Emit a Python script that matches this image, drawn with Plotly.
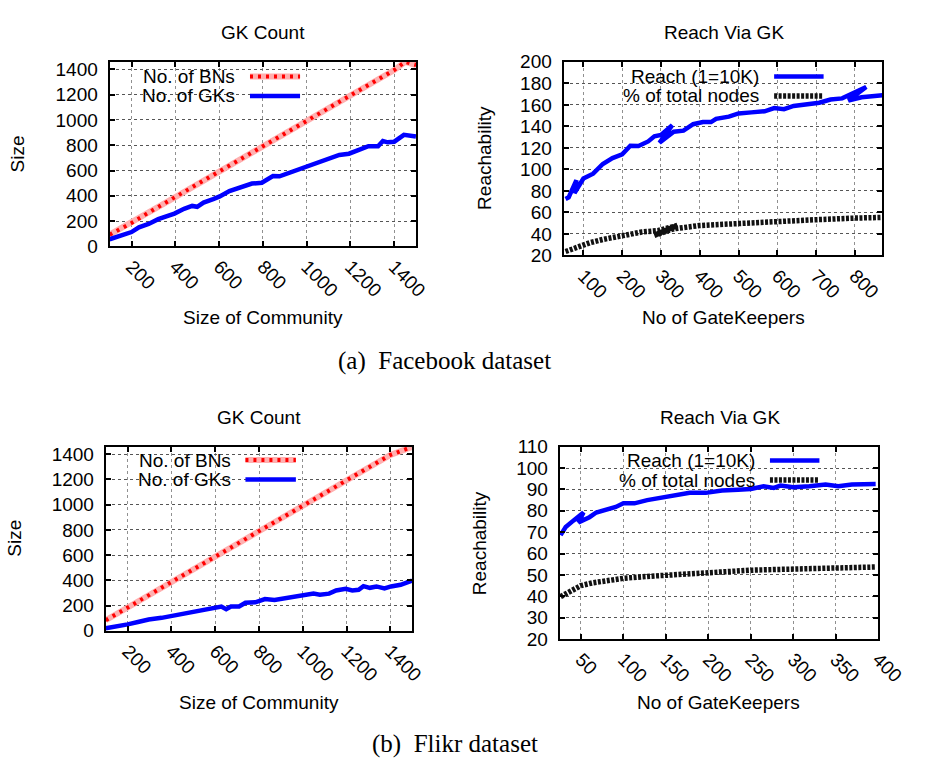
import plotly.graph_objects as go

W, H = 936, 767

# ---------------- data ----------------
# (a) Facebook – GK Count
fb_bn_x = [100, 200, 300, 400, 500, 600, 700, 800, 900, 1000, 1100, 1200, 1300, 1400, 1450, 1500]
fb_bn_y = [92, 185, 290, 390, 490, 590, 690, 790, 890, 995, 1095, 1195, 1295, 1395, 1460, 1435]
fb_gk_x = [100, 153, 200, 234, 278, 322, 396, 440, 477, 500, 529, 573, 603, 647, 699, 750, 795,
           846, 876, 928, 994, 1031, 1075, 1149, 1193, 1238, 1282, 1326, 1348, 1370, 1400, 1444, 1499]
fb_gk_y = [56, 82, 113, 151, 177, 215, 259, 297, 320, 313, 346, 374, 395, 438, 464, 497, 503,
           556, 554, 587, 626, 646, 672, 723, 733, 767, 792, 792, 833, 823, 828, 882, 869]

# (a) Facebook – Reach Via GK
fb_reach_x = [54, 62, 82, 77, 100, 125, 150, 175, 200, 221, 242, 267, 283, 300, 329, 296, 333,
              358, 383, 408, 429, 442, 475, 500, 533, 567, 592, 617, 642, 683, 708, 737, 767,
              829, 783, 817, 871]
fb_reach_y = [72.5, 74, 90, 78, 91.5, 96, 105, 110.5, 114, 122, 121.7, 126, 130.7, 132, 141, 124.7, 135,
              136, 142, 144, 144, 147, 149, 152, 153, 154, 157, 156, 159, 161, 162, 165, 166,
              176.6, 164, 167, 169]
fb_pct_x = [54, 83, 117, 150, 200, 250, 292, 342, 283, 333, 400, 500, 600, 700, 800, 867]
fb_pct_y = [23.6, 28, 31.8, 34.8, 38.7, 41.7, 43, 47.8, 38.7, 44.7, 47.8, 49.9, 51.7, 53.2, 54.7, 55.3]

# (b) Flikr – GK Count
fl_bn_x = [100, 200, 300, 400, 500, 600, 700, 800, 900, 1000, 1100, 1200, 1300, 1400, 1500]
fl_bn_y = [84, 185, 285, 385, 485, 590, 690, 790, 890, 995, 1095, 1195, 1295, 1395, 1459]
fl_gk_x = [100, 148, 200, 252, 296, 355, 414, 473, 532, 591, 628, 650, 672, 709, 738, 783, 827,
           871, 930, 975, 1019, 1049, 1078, 1120, 1152, 1196, 1226, 1255, 1277, 1306, 1336, 1373,
           1403, 1447, 1499]
fl_gk_y = [20, 33, 51, 72, 90, 103, 123, 146, 167, 185, 193, 172, 193, 193, 223, 226, 252,
           244, 262, 277, 282, 295, 287, 295, 320, 333, 320, 326, 354, 341, 352, 336,
           352, 365, 398]

# (b) Flikr – Reach Via GK
fl_reach_x = [26, 32, 41, 53, 47, 60, 68, 79, 91, 100, 113, 128, 148, 167, 178, 197, 216, 235,
              250, 265, 277, 285, 300, 319, 338, 353, 369, 397]
fl_reach_y = [68.6, 72.4, 75.4, 79.2, 74.6, 77, 79.2, 80.4, 81.8, 83.5, 83.5, 85, 86.5, 87.6, 88.4,
              88.4, 89.5, 89.9, 90.2, 91.5, 90.7, 91.8, 91, 91.5, 92.3, 91.5, 92.3, 92.6]
fl_pct_x = [26, 37, 50, 64, 83, 100, 128, 151, 178, 200, 223, 250, 277, 300, 327, 350, 397]
fl_pct_y = [39.8, 42.5, 45, 46.3, 47.4, 48.4, 49.3, 49.9, 50.8, 51.1, 51.6, 52.2, 52.5, 52.8, 53.1,
            53.4, 53.7]

titles = ["GK Count", "Reach Via GK", "GK Count", "Reach Via GK"]
xtitles = ["Size of Community", "No of GateKeepers", "Size of Community", "No of GateKeepers"]
ytitles = ["Size", "Reachability", "Size", "Reachability"]
legend_gk = ["No. of BNs", "No. of GKs"]
legend_reach = ["Reach (1=10K)", "% of total nodes"]
captions = ["(a)  Facebook dataset", "(b)  Flikr dataset"]

# ---------------- layout helpers ----------------
def px(x):
    return x / W


def py(y):
    return 1 - y / H


FONT = "Liberation Sans, Arial, sans-serif"
SERIF = "Liberation Serif, Times New Roman, serif"
FS = 19

# panel boxes in pixels: (left, right, top, bottom)
boxes = [(113, 429, 53.3, 243), (581, 909.7, 53.3, 252.3),
         (109, 425, 449, 638.3), (577, 905.3, 449, 646.7)]
xranges = [[100, 1500], [49, 871], [100, 1500], [25, 400]]
yranges = [[0, 1460], [20, 200], [0, 1460], [20, 110]]
xticks = [list(range(200, 1401, 200)), list(range(100, 801, 100)),
          list(range(200, 1401, 200)), list(range(50, 401, 50))]
yticks = [list(range(0, 1401, 200)), list(range(20, 201, 20)),
          list(range(0, 1401, 200)), list(range(20, 111, 10))]

fig = go.Figure()

RED_LIGHT = "#ffb0b0"
RED = "#ff0000"
BLUE = "#0000ff"
BLACK = "#111111"
BN_DASH = "3px,5px"
PCT_DASH = "3px,1.5px"


def axes(i):
    return ("x", "y") if i == 0 else ("x" + str(i + 1), "y" + str(i + 1))


def add_bn(x, y, i):
    xa, ya = axes(i)
    fig.add_trace(go.Scatter(x=x, y=y, mode="lines", xaxis=xa, yaxis=ya,
                             line=dict(color=RED_LIGHT, width=6), showlegend=False, hoverinfo="skip"))
    fig.add_trace(go.Scatter(x=x, y=y, mode="lines", xaxis=xa, yaxis=ya,
                             line=dict(color=RED, width=4, dash=BN_DASH), showlegend=False))


def add_blue(x, y, i):
    xa, ya = axes(i)
    fig.add_trace(go.Scatter(x=x, y=y, mode="lines", xaxis=xa, yaxis=ya,
                             line=dict(color=BLUE, width=4.5), showlegend=False))


def add_black(x, y, i):
    xa, ya = axes(i)
    fig.add_trace(go.Scatter(x=x, y=y, mode="lines", xaxis=xa, yaxis=ya,
                             line=dict(color=BLACK, width=5.5, dash=PCT_DASH), showlegend=False))


add_bn(fb_bn_x, fb_bn_y, 0)
add_blue(fb_gk_x, fb_gk_y, 0)
add_blue(fb_reach_x, fb_reach_y, 1)
add_black(fb_pct_x, fb_pct_y, 1)
add_bn(fl_bn_x, fl_bn_y, 2)
add_blue(fl_gk_x, fl_gk_y, 2)
add_blue(fl_reach_x, fl_reach_y, 3)
add_black(fl_pct_x, fl_pct_y, 3)

layout = dict(width=W, height=H, margin=dict(l=0, r=0, t=0, b=0),
              paper_bgcolor="white", plot_bgcolor="white", showlegend=False,
              font=dict(family=FONT, size=FS, color="black"))

shapes = []
annotations = []


def note(text, x, y, size=FS, family=FONT, xanchor="center", angle=0):
    annotations.append(dict(text=text, x=px(x), y=py(y), xref="paper", yref="paper",
                            xanchor=xanchor, yanchor="middle", showarrow=False, textangle=angle,
                            font=dict(family=family, size=size, color="black")))


for i, (l, r, t, b) in enumerate(boxes):
    ax = "" if i == 0 else str(i + 1)
    xa, ya = axes(i)
    common = dict(showline=True, linecolor="black", linewidth=2, mirror="allticks",
                  ticks="inside", ticklen=5, tickcolor="black", tickwidth=1.5,
                  showgrid=True, griddash="dot", gridwidth=1,
                  zeroline=False, tickfont=dict(family=FONT, size=FS, color="black"))
    layout["xaxis" + ax] = dict(domain=[px(l), px(r)], range=xranges[i], tickvals=xticks[i],
                                tickangle=45, anchor=ya, gridcolor="#909090", **common)
    layout["yaxis" + ax] = dict(domain=[py(b), py(t)], range=yranges[i], tickvals=yticks[i],
                                anchor=xa, ticklabelstandoff=6, gridcolor="#555555", **common)

title_pos = [(271, 23), (746, 23), (267, 419), (742, 419)]
xtitle_pos = [(271, 316), (745.5, 316), (267, 711.7), (741, 711.7)]
ytitle_pos = [(18, 148), (500, 152), (15, 543), (495, 548)]
for i in range(4):
    note(titles[i], *title_pos[i])
    note(xtitles[i], *xtitle_pos[i])
    note(ytitles[i], *ytitle_pos[i], angle=-90)

# legend boxes (white, above grid, below traces)
legend_boxes = [(123, 318, 54, 98), (591, 861, 54, 100), (120, 315, 450, 494), (583, 858, 450, 494)]
legend_text_right = [244, 784, 240, 780]
legend_samples = [(257.7, 309.3), (798, 849), (253, 305), (793.7, 844.7)]
legend_rows = [(68.3, 88.3), (68.3, 88.3), (462.7, 482.7), (463.3, 483.3)]


def sample(x0, x1, y, color, width, dash="solid"):
    shapes.append(dict(type="line", xref="paper", yref="paper", x0=px(x0), x1=px(x1),
                       y0=py(y), y1=py(y), line=dict(color=color, width=width, dash=dash)))


for i in range(4):
    x0, x1, y0, y1 = legend_boxes[i]
    shapes.append(dict(type="rect", xref="paper", yref="paper", x0=px(x0), x1=px(x1),
                       y0=py(y1), y1=py(y0), fillcolor="white", line=dict(width=0), layer="between"))
    labels = legend_gk if i % 2 == 0 else legend_reach
    sx0, sx1 = legend_samples[i]
    for j in range(2):
        yy = legend_rows[i][j]
        note(labels[j], legend_text_right[i], yy, xanchor="right")
        if i % 2 == 0 and j == 0:
            sample(sx0, sx1, yy, RED_LIGHT, 6)
            sample(sx0, sx1, yy, RED, 4, BN_DASH)
        elif i % 2 == 1 and j == 1:
            sample(sx0, sx1, yy, BLACK, 5.5, PCT_DASH)
        else:
            sample(sx0, sx1, yy, BLUE, 4.5)

note(captions[0], 458.5, 361, size=25, family=SERIF)
note(captions[1], 469.5, 755, size=25, family=SERIF)

layout["shapes"] = shapes
layout["annotations"] = annotations
fig.update_layout(**layout)
fig.write_html("out.html")
